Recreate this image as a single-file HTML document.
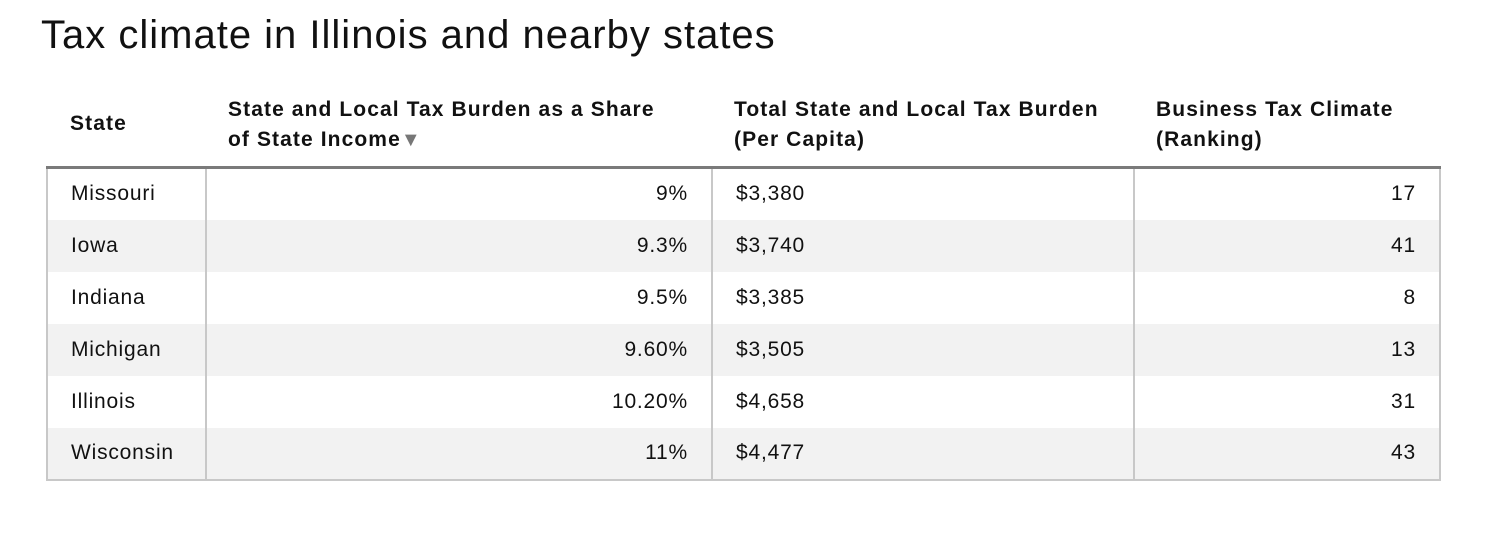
<!DOCTYPE html>
<html><head><meta charset="utf-8"><style>
body{margin:0;width:1506px;height:536px;background:#fff;font-family:"Liberation Sans",Arial,sans-serif;color:#111;position:relative;overflow:hidden}
h1{position:absolute;left:41px;top:13px;margin:0;font-weight:normal;font-size:40px;letter-spacing:1px}
.hd{position:absolute;font-weight:bold;font-size:21px;line-height:30px;letter-spacing:1.1px}
table{position:absolute;left:46px;top:166px;width:1393px;border-collapse:collapse;font-size:21px;letter-spacing:0.8px;table-layout:fixed}
td{height:52px;padding:0 23px;border-left:2px solid #c8c8c8;border-right:2px solid #c8c8c8;box-sizing:border-box}
tr.alt td{background:#f2f2f2}
.r{text-align:right}
#tb{border-top:3px solid #7a7a7a;border-bottom:2px solid #c8c8c8}
</style></head><body>
<h1>Tax climate in Illinois and nearby states</h1>
<div class="hd" style="left:70px;top:109px">State</div>
<div class="hd" style="left:228px;top:95px">State and Local Tax Burden as a Share<br>of State Income<span style="color:#777;font-size:20px">▼</span></div>
<div class="hd" style="left:734px;top:95px">Total State and Local Tax Burden<br>(Per Capita)</div>
<div class="hd" style="left:1156px;top:95px">Business Tax Climate<br>(Ranking)</div>
<table id="tb">
<colgroup><col style="width:159px"><col style="width:506px"><col style="width:422px"><col style="width:306px"></colgroup>
<tbody id="body"></tbody></table>
<script>
const states=["Missouri","Iowa","Indiana","Michigan","Illinois","Wisconsin"];
const shares=["9%","9.3%","9.5%","9.60%","10.20%","11%"];
const perCapita=["$3,380","$3,740","$3,385","$3,505","$4,658","$4,477"];
const ranking=["17","41","8","13","31","43"];
const tb=document.getElementById('body');
states.forEach((s,i)=>{
const tr=document.createElement('tr');


if(i%2)tr.className='alt';
[[s,''],[shares[i],'r'],[perCapita[i],''],[ranking[i],'r']].forEach((c,j)=>{
const td=document.createElement('td');


td.className=c[1];td.textContent=c[0];tr.appendChild(td);});
tb.appendChild(tr);});
</script>
</body></html>
